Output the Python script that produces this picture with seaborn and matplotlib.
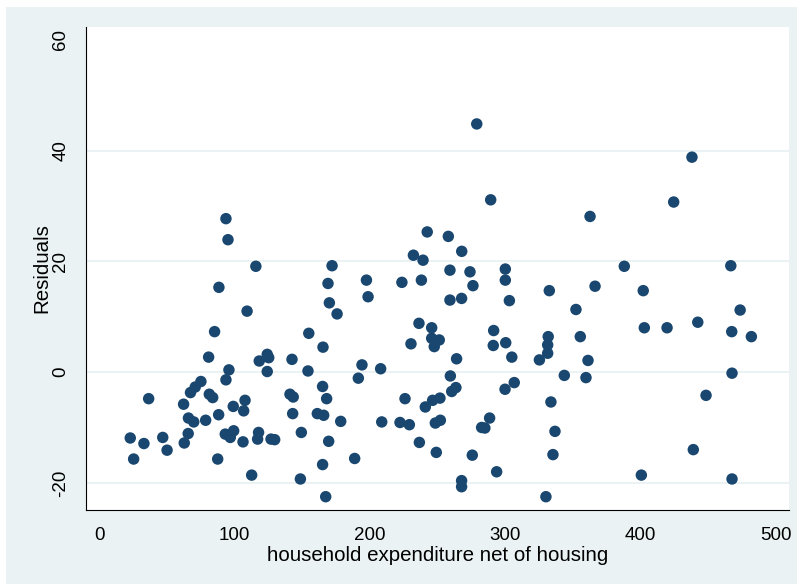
import matplotlib
matplotlib.use("Agg")
import matplotlib.pyplot as plt
import seaborn as sns
import pandas as pd
from matplotlib.patches import Rectangle

# household expenditure net of housing (x) and regression residuals (y)
expenditure = [
    93.6, 95.1, 115.7, 88.4, 109.2, 85.2,
    80.8, 118.2, 124.1, 125.2, 124.1, 95.8, 93.6, 75.1, 70.9, 67.4, 81.3, 83.8,
    36.5, 62.3, 99.0, 107.7, 106.7, 88.2, 65.9, 69.8, 78.6, 99.3, 93.1, 96.8,
    65.7, 62.8, 46.9, 22.9, 33.0, 50.1, 25.4, 87.5, 106.2, 117.7, 117.0, 126.9,
    129.6, 112.6,
    172.0, 169.0, 197.4, 198.6, 170.0, 175.7, 223.6, 232.1, 239.2, 242.3, 257.9,
    259.1, 238.0, 259.1, 154.8, 165.3, 236.2, 245.6, 230.3, 245.6, 251.2, 247.5,
    142.4, 154.2, 194.1, 191.4, 207.9, 165.0, 140.9, 143.3, 168.0, 142.9, 161.1,
    165.8, 178.4, 149.3, 169.5, 188.7, 165.0, 148.6, 167.3, 225.9, 240.9, 246.3,
    251.7, 208.7, 222.2, 229.1, 248.3, 252.0, 236.5, 249.0,
    278.9, 289.2, 362.6, 267.8, 273.9, 300.0, 300.0, 276.1, 332.5, 366.3, 267.7,
    303.0, 352.2,
    291.4, 291.1, 300.3, 304.8, 331.7, 331.3, 331.3, 325.2, 355.4, 361.1, 264.0,
    259.4, 260.4, 263.5, 299.8, 306.6, 343.6, 359.6, 333.7, 288.4, 282.5, 284.9,
    336.7, 275.6, 335.2, 293.6, 267.7, 267.7, 330.0,
    437.9, 424.4, 387.9, 466.6, 401.9, 473.5,
    402.7, 419.5, 442.2, 467.3, 481.8, 467.5, 448.3, 438.9, 400.5, 467.5,
]
residuals = [
    27.7, 23.9, 19.1, 15.3, 11.0, 7.3,
    2.7, 2.0, 3.2, 2.6, 0.1, 0.4, -1.4, -1.7, -2.7, -3.7, -4.0, -4.6,
    -4.8, -5.8, -6.2, -5.1, -7.0, -7.7, -8.3, -9.0, -8.7, -10.6, -11.2, -11.8,
    -11.1, -12.8, -11.8, -11.9, -12.9, -14.1, -15.7, -15.7, -12.6, -10.9, -12.1, -12.1,
    -12.2, -18.6,
    19.2, 16.0, 16.6, 13.6, 12.5, 10.5, 16.2, 21.1, 20.2, 25.3, 24.5,
    18.4, 16.6, 13.0, 7.0, 4.5, 8.8, 8.0, 5.1, 6.1, 5.8, 4.6,
    2.3, 0.2, 1.3, -1.1, 0.6, -2.6, -4.0, -4.5, -4.8, -7.5, -7.5,
    -7.8, -8.9, -10.9, -12.5, -15.6, -16.7, -19.3, -22.5, -4.8, -6.3, -5.1,
    -4.7, -9.0, -9.1, -9.5, -9.2, -8.7, -12.7, -14.5,
    44.8, 31.1, 28.1, 21.8, 18.1, 18.6, 16.6, 15.6, 14.7, 15.5, 13.3,
    12.9, 11.3,
    7.5, 4.8, 5.3, 2.7, 6.4, 4.9, 3.4, 2.2, 6.4, 2.1, 2.4,
    -0.7, -3.5, -2.8, -3.1, -1.9, -0.6, -1.0, -5.4, -8.3, -10.0, -10.1,
    -10.7, -15.0, -14.9, -18.0, -19.6, -20.7, -22.5,
    38.8, 30.7, 19.1, 19.2, 14.7, 11.2,
    8.0, 8.0, 9.0, 7.3, 6.4, -0.2, -4.2, -14.0, -18.6, -19.3,
]

x_ticks = [0, 100, 200, 300, 400, 500]
y_ticks = [-20, 0, 20, 40, 60]
grid_levels = [-20, 0, 20, 40]

x_title = "household expenditure net of housing"
y_title = "Residuals"

df = pd.DataFrame({"expenditure": expenditure, "residuals": residuals})

sns.set_style("white")
plt.rcParams["font.family"] = ["Liberation Sans", "DejaVu Sans"]
plt.rcParams["axes.unicode_minus"] = False

region = "#EAF2F3"
navy = "#1A476F"

fig = plt.figure(figsize=(8.03, 5.84), dpi=100, facecolor="white")
# light graph region behind the white plot region
fig.patches.append(Rectangle((6 / 803, 0), 791 / 803, 577 / 584,
                             transform=fig.transFigure, facecolor=region,
                             edgecolor="none", zorder=-10))

ax = fig.add_axes([86 / 803, 1 - 510 / 584, 703 / 803, 483 / 584])
ax.set_facecolor("white")

for g in grid_levels:
    ax.axhline(g, color=region, lw=1.4, zorder=0)

sns.scatterplot(data=df, x="expenditure", y="residuals", ax=ax,
                color=navy, s=68, linewidth=0, edgecolor="none", zorder=3)

ax.set_xlim(-9.8, 509.6)
ax.set_ylim(-24.9, 62.3)
ax.set_xticks(x_ticks)
ax.set_yticks(y_ticks)
ax.set_xticklabels([str(t) for t in x_ticks])
ax.set_yticklabels([str(t) for t in y_ticks], rotation=90, va="center")

for side in ["top", "right"]:
    ax.spines[side].set_visible(False)
for side in ["left", "bottom"]:
    ax.spines[side].set_color("black")
    ax.spines[side].set_linewidth(0.8)

ax.tick_params(axis="both", direction="out", length=6, width=0.8,
               color="black", labelsize=13.5, labelcolor="black", pad=6)

ax.set_xlabel(x_title, fontsize=14.8, color="black", labelpad=2)
ax.set_ylabel(y_title, fontsize=14.8, color="black", labelpad=1)

fig.savefig("out.png", dpi=100, facecolor=fig.get_facecolor())
